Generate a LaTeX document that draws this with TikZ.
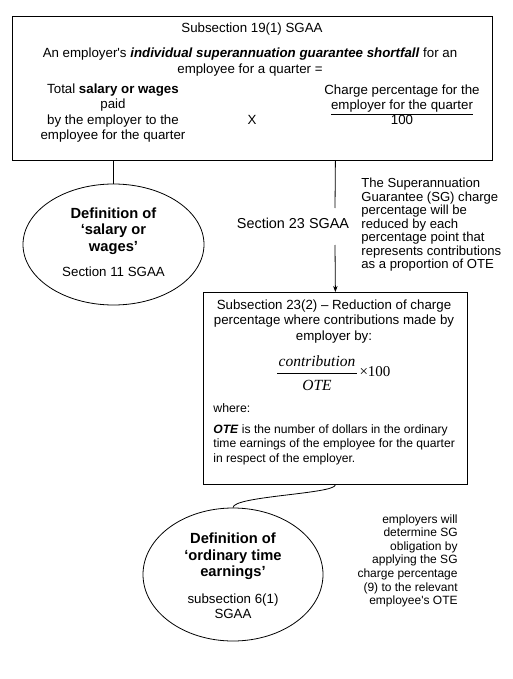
\documentclass[tikz,border=0pt]{standalone}
\usepackage{fontspec}
\setmainfont{Liberation Sans}
\newfontfamily\tnr{Liberation Serif}
\usetikzlibrary{arrows.meta,shapes.geometric}
\begin{document}
\begin{tikzpicture}[x=1pt,y=-1pt,
  line width=0.8pt,
  reg/.style={inner sep=0pt,align=center,font=\fontsize{13.3}{15.5}\selectfont},
  boldtxt/.style={inner sep=0pt,align=center,font=\fontsize{14.7}{16.5}\selectfont\bfseries},
  side/.style={inner sep=0pt,font=\fontsize{13.1}{13.5}\selectfont},
  box/.style={draw,rectangle,inner sep=0pt,anchor=north west},
  oval/.style={draw,ellipse,inner sep=0pt},
  arr/.style={-{Stealth[length=6pt,width=4.5pt]}}
]
\useasboundingbox (0,0) rectangle (513,679);

% top box
\node[box,minimum width=480pt,minimum height=144pt] (top) at (12,16) {};
\node[reg] (t1) at (252,29) {Subsection 19(1) SGAA};
\node[reg,font=\fontsize{13.3}{16}\selectfont] (t2) at (250,62) {An employer\textquotesingle s \textbf{\textit{individual superannuation guarantee shortfall}} for an\\employee for a quarter =};
\node[reg,font=\fontsize{13.3}{15.3}\selectfont] (t3) at (113,113) {Total \textbf{salary or wages}\\paid\\by the employer to the\\employee for the quarter};
\node[reg] (tx) at (252,120) {X};
\node[reg,font=\fontsize{13.3}{15}\selectfont] (t4) at (402,105) {Charge percentage for the\\\underline{employer for the quarter}\\100};

% ellipse 1
\node[oval,minimum width=181pt,minimum height=121pt] (e1) at (113.5,244.5) {};
\node[boldtxt] (e1a) at (113.5,231) {Definition of\\‘salary or\\wages’};
\node[reg] (e1b) at (113.5,272) {Section 11 SGAA};
\draw (e1.north |- top.south) -- (e1.north);

% middle box
\node[box,minimum width=264pt,minimum height=192pt] (mid) at (203,292) {};
\node[reg] (m1) at (334,321.5) {Subsection 23(2) – Reduction of charge\\percentage where contributions made by\\employer by:};
\node[inner sep=0pt,font=\tnr\fontsize{15.5}{16}\selectfont\itshape] (num) at (317,361) {contribution};
\node[inner sep=0pt,font=\tnr\fontsize{15.5}{16}\selectfont\itshape] (den) at (317,385) {OTE};
\coordinate (fl) at (277,373);
\coordinate (fr) at (357,373);
\draw[line width=0.7pt] (fl) -- (fr);
\node[inner sep=0pt,font=\tnr\fontsize{15}{16}\selectfont] (times) at (375,372) {×100};
\node[reg,anchor=west,font=\fontsize{12.3}{14.5}\selectfont] (m2) at (213,408) {where:};
\node[reg,anchor=west,align=left,font=\fontsize{12.1}{14.5}\selectfont] (m3) at (213,444.7) {\textbf{\textit{OTE}} is the number of dollars in the ordinary\\time earnings of the employee for the quarter\\in respect of the employer.};

% section 23 arrow with label
\node[reg,font=\fontsize{14.4}{15}\selectfont] (s23) at (293,223) {Section 23 SGAA};
\coordinate (a1) at (335,208);
\coordinate (a2) at (335,245);
\draw (mid.north |- top.south) -- (a1);
\draw[arr] (a2) -- (mid.north);

\node[side,anchor=west,align=left] (n1) at (361,224.7) {The Superannuation\\Guarantee (SG) charge\\percentage will be\\reduced by each\\percentage point that\\represents contributions\\as a proportion of OTE};

% ellipse 2
\node[oval,minimum width=180pt,minimum height=133pt] (e2) at (233,574.5) {};
\node[boldtxt] (e2a) at (233,556.7) {Definition of\\‘ordinary time\\earnings’};
\node[reg,font=\fontsize{13.3}{15}\selectfont] (e2b) at (233,606.5) {subsection 6(1)\\SGAA};
\draw (mid.south) .. controls (335,494) and (233,496) .. (e2.north);

\node[side,anchor=east,align=right,font=\fontsize{12}{13.6}\selectfont] (n2) at (458,560.8) {employers will\\determine SG\\obligation by\\applying the SG\\charge percentage\\(9) to the relevant\\employee\textquotesingle s OTE};
\end{tikzpicture}
\end{document}
